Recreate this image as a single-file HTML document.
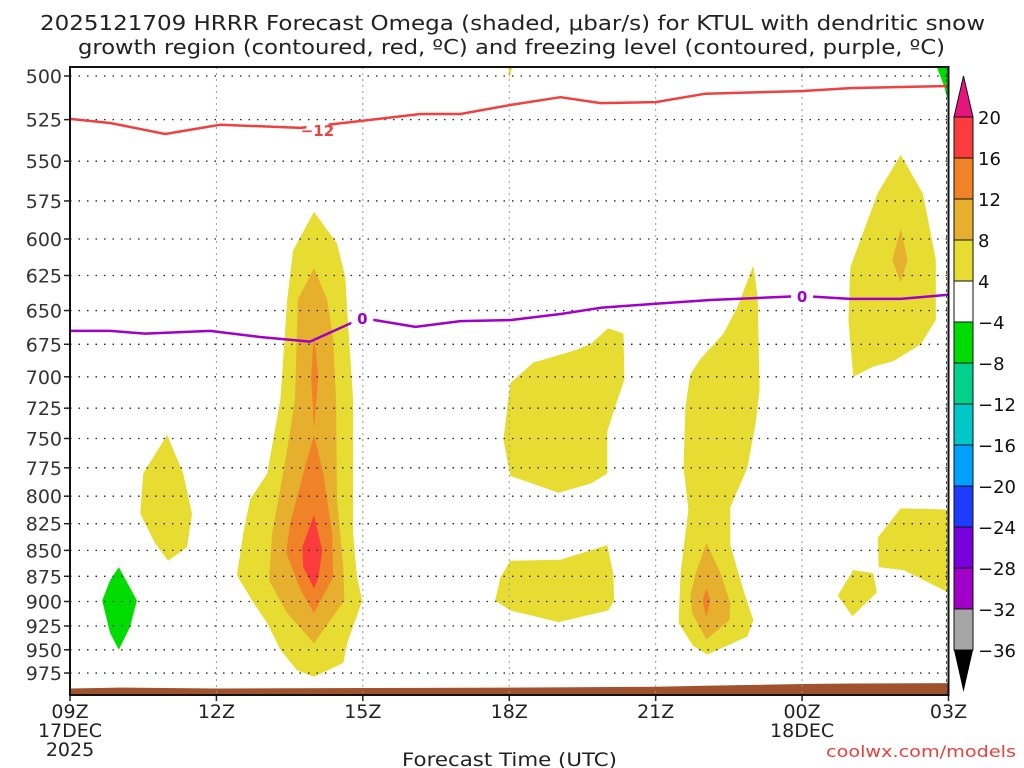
<!DOCTYPE html>
<html><head><meta charset="utf-8"><style>
body{margin:0;background:#fff;width:1024px;height:768px;overflow:hidden}
svg{display:block;font-family:"DejaVu Sans","Liberation Sans",sans-serif}
</style></head><body>
<svg id="chart" width="1024" height="768">
<text x="40" y="30" textLength="945" lengthAdjust="spacingAndGlyphs" font-size="20" fill="#222">2025121709 HRRR Forecast Omega (shaded, μbar/s) for KTUL with dendritic snow</text>
<text x="78" y="54" textLength="867" lengthAdjust="spacingAndGlyphs" font-size="20" fill="#222">growth region (contoured, red, ºC) and freezing level (contoured, purple, ºC)</text>
<g id="fills"></g>
<g id="grid"></g>
<g id="lines"></g>
<g id="axes"></g>
<g id="cbar"></g>
<text x="402" y="766" textLength="215" lengthAdjust="spacingAndGlyphs" font-size="19" fill="#222">Forecast Time (UTC)</text>
<text x="826" y="757" textLength="190" lengthAdjust="spacingAndGlyphs" font-size="16" fill="#e8413c">coolwx.com/models</text>
</svg>
<script>
const pTicks=[500,525,550,575,600,625,650,675,700,725,750,775,800,825,850,875,900,925,950,975];
const xTickHours=[0,3,6,9,12,15,18];
const xTickLabels=["09Z","12Z","15Z","18Z","21Z","00Z","03Z"];
const redHours=[0,0.82,1.95,3.08,4.72,5.95,7.18,8.0,9.02,10.05,10.87,12.0,13.02,14.97,15.99,18];
const redP=[524.6,527,533.5,528,529.9,525.8,521.7,521.7,516.5,512,515.4,514.8,510,508.5,506.8,505.6];
const purHours=[0,0.82,1.54,2.87,3.89,4.92,5.99,7.08,8.0,9.02,10.05,10.87,12.0,13.12,15.0,15.99,17.02,18];
const purP=[665,665,667,665,669.5,673,655.4,662,657.7,657,652.5,648,645,642.4,639.5,641.6,641.6,638.6];
const sfcHours=[0,1,3,6,9,12,13,15,16,18];
const sfcP=[992,991,992,991.5,991,990,989,987,986.5,986];
const cLevels=[20,16,12,8,4,-4,-8,-12,-16,-20,-24,-28,-32,-36];
const cColors=["#fa3c3c","#f08228","#e6af2d","#e6dc32","#ffffff","#00dc00","#00d28c","#00c8c8","#00a0ff","#1e3cff","#7800dc","#a000c8","#a6a6a6"];
const blobYellow=[
[[5.00,582],[5.47,603],[5.64,626],[5.68,650],[5.80,718],[5.80,834],[5.88,876],[5.99,899],[5.68,943],[5.60,964],[5.00,979],[4.65,972],[4.31,950],[4.04,922],[3.73,899],[3.42,874],[3.55,834],[3.69,803],[4.04,780],[4.31,718],[4.45,642],[4.57,608]],
[[1.99,747],[2.32,780],[2.50,816],[2.40,847],[2.01,860],[1.74,843],[1.44,816],[1.50,780]],
[[11.03,663],[11.34,667],[11.36,702],[11.22,718],[11.01,744],[11.01,780],[10.66,789],[10.01,797],[9.02,782],[8.88,751],[9.02,705],[9.49,689],[10.31,680],[10.66,675]],
[[11.01,845],[11.13,872],[11.15,899],[11.03,909],[10.01,921],[9.02,909],[8.71,899],[8.82,876],[9.02,860],[10.05,859]],
[[14.00,618],[14.09,640],[14.13,710],[14.05,737],[13.88,775],[13.53,810],[13.53,845],[13.80,889],[14.00,919],[13.88,936],[13.06,955],[12.77,946],[12.47,922],[12.51,872],[12.67,812],[12.57,775],[12.61,724],[12.71,698],[12.92,686],[13.39,667],[13.68,647]],
[[17.02,546],[17.47,570],[17.53,579],[17.74,614],[17.74,657],[17.43,675],[16.87,688],[16.46,692],[16.05,700],[15.95,657],[15.99,619],[16.55,570]],
[[17.02,811],[18.0,812],[18.0,891],[17.08,869],[16.57,866],[16.55,838]],
[[16.05,869],[16.46,872],[16.53,891],[16.03,915],[15.73,894]],
[[8.98,495],[9.06,495],[9.0,502]]
];
const blobGold=[
[[5.00,620],[5.27,642],[5.39,671],[5.45,718],[5.47,803],[5.60,866],[5.62,899],[5.00,943],[4.45,912],[4.08,879],[4.14,834],[4.41,770],[4.61,718],[4.67,642]],
[[13.04,843],[13.33,872],[13.53,902],[13.51,919],[13.04,939],[12.75,912],[12.71,895],[12.82,872]],
[[17.02,593],[17.16,614],[17.02,630],[16.85,614]]
];
const blobOrange=[
[[5.00,669],[5.09,700],[5.00,742],[4.94,700]],
[[5.00,747],[5.19,780],[5.37,834],[5.39,876],[5.00,912],[4.72,888],[4.43,852],[4.51,825],[4.78,780]],
[[13.04,887],[13.12,899],[13.04,916],[12.96,899]]
];
const blobRed=[[[5.00,817],[5.17,850],[5.09,876],[5.00,887],[4.78,866],[4.76,847]]];
const blobGreen=[
[[1.00,866],[1.37,899],[1.23,926],[1.00,950],[0.82,932],[0.66,899],[0.82,879]],
[[17.76,495],[18.0,495],[18.0,515],[17.9,505]]
];
const X0=70,X1=948.5,HSPAN=18,PTOP=495,PBOT=999;
const xs=h=>X0+(X1-X0)*h/HSPAN;
const ys=p=>76+894*Math.log(p/500);
const NS="http://www.w3.org/2000/svg";
function mk(tag,attrs,parent,txt){const e=document.createElementNS(NS,tag);for(const k in attrs)e.setAttribute(k,attrs[k]);if(txt!==undefined)e.textContent=txt;parent.appendChild(e);return e;}
const fills=document.getElementById('fills'),grid=document.getElementById('grid'),lines=document.getElementById('lines'),axes=document.getElementById('axes'),cbar=document.getElementById('cbar');
const pts=b=>b.map(q=>xs(q[0]).toFixed(1)+","+ys(q[1]).toFixed(1)).join(" ");
function drawBlobs(arr,color,name){arr.forEach(b=>{const e=mk('polygon',{points:pts(b),fill:color},fills);

});}
drawBlobs(blobYellow,"#e6dc32","omega-4-8");
drawBlobs(blobGold,"#e6af2d","omega-8-12");
drawBlobs(blobOrange,"#f08228","omega-12-16");
drawBlobs(blobRed,"#fa3c3c","omega-16-20");
drawBlobs(blobGreen,"#00dc00","omega-neg4-neg8");
let g="M"+xs(0)+","+ys(PBOT)+" "+sfcHours.map((h,i)=>"L"+xs(h).toFixed(1)+","+ys(sfcP[i]).toFixed(1)).join(" ")+" L"+xs(18)+","+ys(PBOT)+"Z";
const gr=mk('path',{d:g,fill:"#a0522d"},fills);


pTicks.forEach(p=>{const l=mk('line',{x1:X0,x2:X1,y1:ys(p),y2:ys(p),stroke:"#222","stroke-width":1.3,"stroke-dasharray":"1.5 7"},grid);


const t=mk('text',{x:62,y:ys(p)+7,"text-anchor":"end","font-size":19,fill:"#333"},axes,String(p));


mk('line',{x1:64,x2:70,y1:ys(p),y2:ys(p),stroke:"#222","stroke-width":1.5},axes);});
xTickHours.forEach((h,i)=>{if(i>0&&i<xTickHours.length-1){const l=mk('line',{x1:xs(h),x2:xs(h),y1:67,y2:695,stroke:"#999","stroke-width":1,"stroke-dasharray":"2 4"},grid);

}
mk('line',{x1:xs(h),x2:xs(h),y1:695,y2:701,stroke:"#222","stroke-width":1.5},axes);
const t=mk('text',{x:xs(h),y:718,"text-anchor":"middle","font-size":19,fill:"#222"},axes,xTickLabels[i]);

});
[["17DEC",xs(0),737],["2025",xs(0),756],["18DEC",xs(15),737]].forEach(a=>{const t=mk('text',{x:a[1],y:a[2],"text-anchor":"middle","font-size":19,fill:"#222"},axes,a[0]);

});
function line(hs,ps,color,name){const d=hs.map((h,i)=>(i?"L":"M")+xs(h).toFixed(1)+","+ys(ps[i]).toFixed(1)).join(" ");
const e=mk('path',{d:d,fill:"none",stroke:color,"stroke-width":2.5,"stroke-linejoin":"round"},lines);

}
line(redHours,redP,"#f04040","dgz-minus12-contour");
line(purHours,purP,"#a000c8","freezing-level-contour");
function lab(h,p,txt,color,name){mk('rect',{x:xs(h)-11,y:ys(p)-9,width:22,height:17,fill:"#fff"},lines);
const t=mk('text',{x:xs(h),y:ys(p)+6,"text-anchor":"middle","font-size":15,"font-weight":"bold",fill:color},lines,txt);

}
lab(5.07,531,"−12","#f04040","label-minus12");
lab(5.99,655.4,"0","#a000c8","label-0-a");
lab(15.0,639.5,"0","#a000c8","label-0-b");
const fr=mk('rect',{x:X0,y:67,width:X1-X0,height:628,fill:"none",stroke:"#111","stroke-width":2},axes);


mk('line',{x1:X1-2,x2:X1-2,y1:67,y2:695,stroke:"#555","stroke-width":1,"stroke-dasharray":"3 3"},axes);
const CX=954,CW=19,CT=117,CS=41;
const tri=mk('polygon',{points:`${CX},${CT} ${CX+CW/2},76 ${CX+CW},${CT}`,fill:"#e6147d",stroke:"#111","stroke-width":1},cbar);


cColors.forEach((c,i)=>{const r=mk('rect',{x:CX,y:CT+i*CS,width:CW,height:CS,fill:c,stroke:"#111","stroke-width":1},cbar);

});
const tb=mk('polygon',{points:`${CX},${CT+13*CS} ${CX+CW/2},692 ${CX+CW},${CT+13*CS}`,fill:"#000"},cbar);


cLevels.forEach((v,i)=>{const t=mk('text',{x:978,y:CT+i*CS+7,"font-size":18,fill:"#111"},cbar,v<0?"−"+(-v):String(v));

});
</script>
</body></html>
